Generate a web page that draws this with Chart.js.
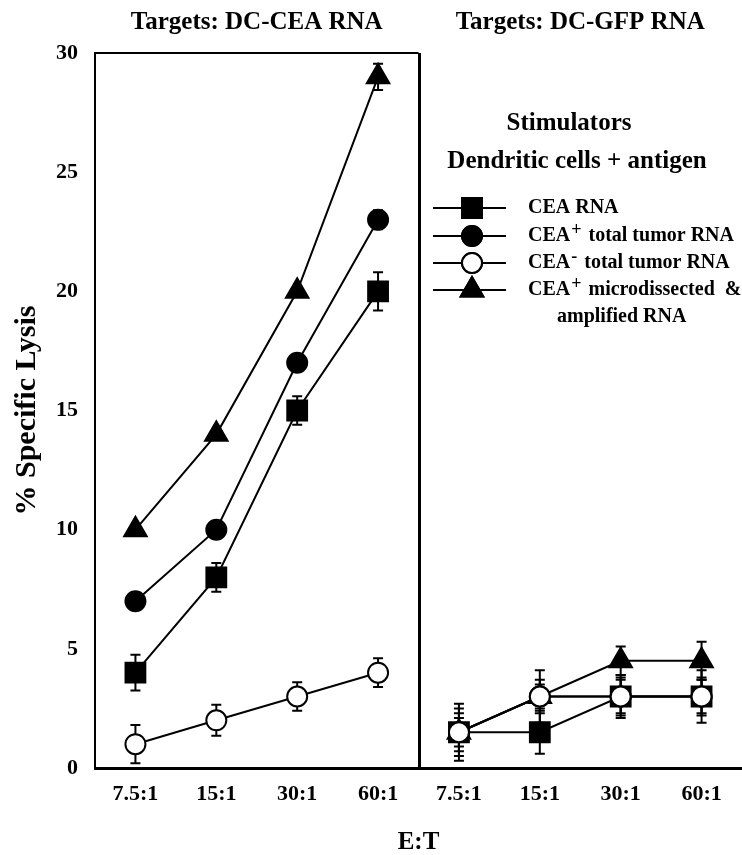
<!DOCTYPE html>
<html>
<head>
<meta charset="utf-8">
<script src="https://cdn.jsdelivr.net/npm/chart.js@4.4.1/dist/chart.umd.min.js"></script>
<style>
  html, body { margin: 0; padding: 0; background: #fff; }
  #wrap { width: 742px; height: 855px; position: relative; }
</style>
</head>
<body>
<div id="wrap"><canvas id="chart" width="742" height="855"></canvas></div>
<script>
// ─── Datos ──────────────────────────────────────────────────────────

const ratios = ['7.5:1', '15:1', '30:1', '60:1'];
const panelTitles = ['Targets: DC-CEA RNA', 'Targets: DC-GFP RNA'];

// Panel izquierdo: targets DC-CEA RNA
const ceaSquare      = [4, 8, 15, 20];
const ceaSquareErr   = [0.75, 0.6, 0.6, 0.8];
const ceaCircle      = [7, 10, 17, 23];
const ceaCircleErr   = [0.35, 0.35, 0.35, 0.4];
const ceaOpen        = [1, 2, 3, 4];
const ceaOpenErr     = [0.8, 0.65, 0.6, 0.6];
const ceaTriangle    = [10, 14, 20, 29];
const ceaTriangleErr = [0.2, 0.2, 0.2, 0.55];

// Panel derecho: targets DC-GFP RNA
const gfpSquare      = [1.5, 1.5, 3, 3];
const gfpSquareErr   = [1.2, 0.9, 0.9, 1.1];
const gfpCircle      = [1.5, 3, 3, 3];
const gfpCircleErr   = [0.8, 0.7, 0.7, 0.7];
const gfpOpen        = [1.5, 3, 3, 3];
const gfpOpenErr     = [1.0, 1.1, 0.8, 0.8];
const gfpTriangle    = [1.5, 3, 4.5, 4.5];
const gfpTriangleErr = [0.6, 0.5, 0.6, 0.8];

const yTicks = [0, 5, 10, 15, 20, 25, 30];

const FONT = "'Liberation Serif', 'Times New Roman', serif";

// ─── Series ─────────────────────────────────────────────────────────

const STYLES = {
  square:   { pointStyle: 'rect',     pointRadius: 14, bg: '#000' },
  circle:   { pointStyle: 'circle',   pointRadius: 10, bg: '#000' },
  open:     { pointStyle: 'circle',   pointRadius: 10, bg: '#fff' },
  triangle: { pointStyle: 'triangle', pointRadius: 13, bg: '#000' },
};

const nulls = [null, null, null, null];

function series(kind, vals, errs, panel, order) {
  const s = STYLES[kind];
  return {
    data: panel === 0 ? vals.concat(nulls) : nulls.concat(vals),
    errors: panel === 0 ? errs.concat(nulls) : nulls.concat(errs),
    kind,
    order,
    borderColor: '#000',
    borderWidth: 2,
    pointStyle: s.pointStyle,
    pointRadius: s.pointRadius,
    pointHoverRadius: s.pointRadius,
    pointBackgroundColor: s.bg,
    pointBorderColor: '#000',
    pointBorderWidth: 2,
    spanGaps: false,
    tension: 0,
    fill: false,
  };
}

const datasets = [
  series('open',     ceaOpen,     ceaOpenErr,     0, 0),
  series('circle',   ceaCircle,   ceaCircleErr,   0, 1),
  series('square',   ceaSquare,   ceaSquareErr,   0, 2),
  series('triangle', ceaTriangle, ceaTriangleErr, 0, 3),
  series('open',     gfpOpen,     gfpOpenErr,     1, 0),
  series('circle',   gfpCircle,   gfpCircleErr,   1, 1),
  series('square',   gfpSquare,   gfpSquareErr,   1, 2),
  series('triangle', gfpTriangle, gfpTriangleErr, 1, 3),
];

// ─── Plugins ────────────────────────────────────────────────────────

// barras de error, debajo de los marcadores
const errorBars = {
  id: 'errorBars',
  beforeDatasetsDraw(chart) {
    const { ctx, scales: { x, y } } = chart;
    ctx.save();
    ctx.strokeStyle = '#000';
    ctx.lineWidth = 2;
    chart.data.datasets.forEach(ds => {
      ds.data.forEach((v, i) => {
        const e = ds.errors[i];
        if (v == null || e == null) return;
        const px = x.getPixelForValue(i);
        const top = y.getPixelForValue(v + e);
        const bot = y.getPixelForValue(v - e);
        ctx.beginPath();
        ctx.moveTo(px, top); ctx.lineTo(px, bot);
        ctx.moveTo(px - 5, top); ctx.lineTo(px + 5, top);
        ctx.moveTo(px - 5, bot); ctx.lineTo(px + 5, bot);
        ctx.stroke();
      });
    });
    ctx.restore();
  },
};

function drawMarker(ctx, kind, cx, cy) {
  const s = STYLES[kind];
  Chart.helpers.drawPoint(ctx, {
    pointStyle: s.pointStyle, radius: s.pointRadius, rotation: 0, borderWidth: 2,
  }, cx, cy);
  ctx.fill();
  ctx.stroke();
}

// marco, títulos y leyenda
const frame = {
  id: 'frame',
  afterDraw(chart) {
    const { ctx, chartArea: a, scales: { x } } = chart;
    const mid = (x.getPixelForValue(3) + x.getPixelForValue(4)) / 2;
    ctx.save();
    ctx.strokeStyle = '#000';

    // borde superior del panel izquierdo y separador
    ctx.lineWidth = 2;
    ctx.beginPath();
    ctx.moveTo(a.left, a.top); ctx.lineTo(mid, a.top);
    ctx.stroke();
    ctx.lineWidth = 3;
    ctx.beginPath();
    ctx.moveTo(mid + 1, a.top); ctx.lineTo(mid + 1, a.bottom);
    ctx.stroke();

    ctx.fillStyle = '#000';
    ctx.textAlign = 'center';
    ctx.textBaseline = 'middle';
    ctx.font = `bold 25px ${FONT}`;
    ctx.fillText(panelTitles[0], (a.left + mid) / 2, 23);
    ctx.fillText(panelTitles[1], (mid + a.right) / 2, 23);

    ctx.font = `bold 25px ${FONT}`;
    ctx.fillText('E:T', (a.left + a.right) / 2, 843);

    ctx.save();
    ctx.translate(27, (a.top + a.bottom) / 2);
    ctx.rotate(-Math.PI / 2);
    ctx.font = `bold 30px ${FONT}`;
    ctx.fillText('% Specific Lysis', 0, 0);
    ctx.restore();

    // leyenda
    ctx.font = `bold 25px ${FONT}`;
    ctx.fillText('Stimulators', 569, 124);
    ctx.fillText('Dendritic cells + antigen', 577, 162);

    const rows = [
      { kind: 'square',   y: 208, parts: [['CEA RNA']] },
      { kind: 'circle',   y: 236, parts: [['CEA'], ['+', 'sup'], [' total tumor RNA']] },
      { kind: 'open',     y: 263, parts: [['CEA'], ['-', 'sup'], [' total tumor RNA']] },
      { kind: 'triangle', y: 290, parts: [['CEA'], ['+', 'sup'], [' microdissected  &']] },
    ];
    ctx.textAlign = 'left';
    rows.forEach(r => {
      ctx.lineWidth = 2;
      ctx.beginPath();
      ctx.moveTo(433, r.y); ctx.lineTo(506, r.y);
      ctx.stroke();
      ctx.fillStyle = STYLES[r.kind].bg;
      drawMarker(ctx, r.kind, 472, r.y);
      ctx.fillStyle = '#000';
      let tx = 528;
      r.parts.forEach(([t, sup]) => {
        if (sup) {
          ctx.font = `bold 18px ${FONT}`;
          ctx.fillText(t, tx + 1, r.y - 6);
          tx += ctx.measureText(t).width + 3;
        } else {
          ctx.font = `bold 20px ${FONT}`;
          ctx.fillText(t, tx, r.y);
          tx += ctx.measureText(t).width;
        }
      });
    });
    ctx.font = `bold 20px ${FONT}`;
    ctx.fillText('amplified RNA', 557, 317);
    ctx.restore();
  },
};

// ─── Gráfico ────────────────────────────────────────────────────────

new Chart(document.getElementById('chart'), {
  type: 'line',
  data: { labels: ratios.concat(ratios), datasets },
  options: {
    responsive: false,
    animation: false,
    layout: { autoPadding: false, padding: { top: 53, right: 0, bottom: 0, left: 0 } },
    plugins: { legend: { display: false }, tooltip: { enabled: false } },
    scales: {
      x: {
        type: 'category',
        offset: true,
        grid: { display: false, drawTicks: false },
        border: { display: true, color: '#000', width: 3 },
        ticks: { color: '#000', padding: 13, font: { family: FONT, size: 22, weight: 'bold' } },
        afterFit: s => { s.height = 87; s.paddingLeft = 0; s.paddingRight = 0; },
      },
      y: {
        min: 0,
        max: 30,
        afterBuildTicks: s => { s.ticks = yTicks.map(v => ({ value: v })); },
        grid: { display: false, drawTicks: false },
        border: { display: true, color: '#000', width: 2 },
        ticks: { color: '#000', padding: 17, font: { family: FONT, size: 22, weight: 'bold' } },
        afterFit: s => { s.width = 95; },
      },
    },
  },
  plugins: [errorBars, frame],
});
</script>
</body>
</html>
